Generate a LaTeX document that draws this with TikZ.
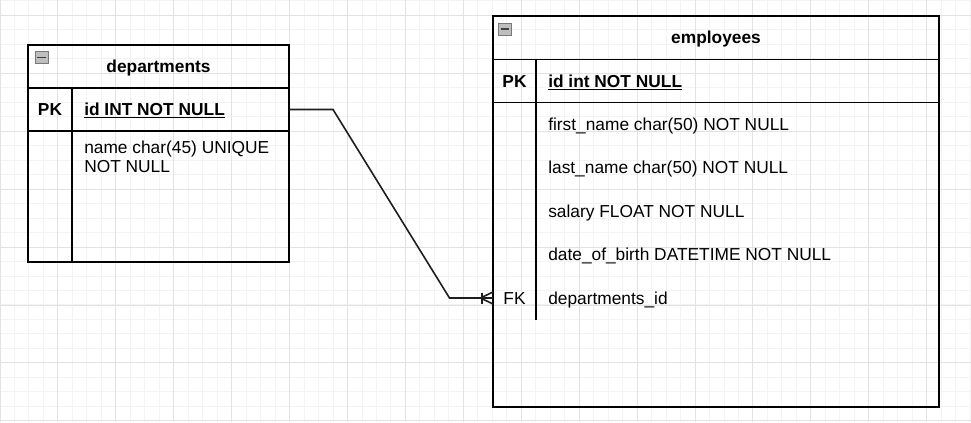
\documentclass[tikz,border=0pt]{standalone}
\usepackage{fontspec}
\setmainfont{Liberation Sans}
\usetikzlibrary{calc}
\definecolor{gridminor}{RGB}{243,243,243}
\definecolor{gridmajor}{RGB}{226,226,226}
\definecolor{iconfill}{RGB}{190,190,190}
\definecolor{iconline}{RGB}{120,120,120}
\definecolor{linkgray}{RGB}{30,30,30}

\begin{document}
\begin{tikzpicture}[x=0.75pt, y=-0.75pt,
    tbl/.style={draw, line width=1.1pt, inner sep=0pt, outer sep=0pt},
    title/.style={font=\fontsize{13}{15}\selectfont\bfseries, text height=9.3pt, text depth=0pt},
    field/.style={font=\fontsize{13}{15}\selectfont, anchor=west, inner sep=0pt, text height=9.3pt, text depth=0pt},
    keycol/.style={font=\fontsize{13}{15}\selectfont, inner sep=0pt, text height=9.3pt, text depth=0pt},
    divider/.style={line width=1.2pt},
    link/.style={draw=linkgray, line width=1.2pt},
    icon/.style={draw=iconline, fill=iconfill, line width=0.6pt, minimum width=13*0.75pt, minimum height=12*0.75pt, inner sep=0pt}
]
    \useasboundingbox (0,0) rectangle (971,422);
    \fill[white] (0,0) rectangle (971,422);

    % Cuadricula del fondo
    \foreach \k in {0,...,67} {
        \draw[gridminor, line width=0.75pt] ({\k*14.48},0) -- ({\k*14.48},422);
    }
    \foreach \k in {0,...,29} {
        \draw[gridminor, line width=0.75pt] (0,{0.9+\k*14.48}) -- (971,{0.9+\k*14.48});
    }
    \foreach \k in {0,...,16} {
        \draw[gridmajor, line width=0.75pt] ({\k*57.92},0) -- ({\k*57.92},422);
    }
    \foreach \k in {0,...,7} {
        \draw[gridmajor, line width=0.75pt] (0,{15.4+\k*57.92}) -- (971,{15.4+\k*57.92});
    }

    % Tabla departments
    \node[tbl, title, minimum width=261*0.75pt, minimum height=43*0.75pt] (dep-head) at (158.5,66.5) {departments};
    \node[tbl, minimum width=261*0.75pt, minimum height=43*0.75pt] (dep-pk) at (158.5,109.5) {};
    \node[tbl, minimum width=261*0.75pt, minimum height=131*0.75pt] (dep-body) at (158.5,196.5) {};
    \draw[divider] (72,88) -- (72,262);
    \node[icon] (dep-icon) at (41.5,57.5) {};
    \draw[line width=1.1pt, black!75] ($(dep-icon.west)+(2.5,0)$) -- ($(dep-icon.east)+(-2.5,0)$);

    \node[keycol, font=\fontsize{13}{15}\selectfont\bfseries] (dep-pkkey) at (50,109.5) {PK};
    \node[field, font=\fontsize{13}{15}\selectfont\bfseries] (dep-id) at (84,109.5) {\underline{id INT NOT NULL}};
    \node[font=\fontsize{13}{14.5}\selectfont, anchor=north west, inner sep=0pt, align=left] (dep-name) at (84,140.3) {name char(45) UNIQUE\\NOT NULL};

    % Tabla employees
    \node[tbl, title, minimum width=446*0.75pt, minimum height=43.5*0.75pt] (emp-head) at (716,37.75) {employees};
    \node[tbl, minimum width=446*0.75pt, minimum height=43*0.75pt] (emp-pk) at (716,81) {};
    \node[tbl, minimum width=446*0.75pt, minimum height=304.5*0.75pt] (emp-body) at (716,254.75) {};
    \draw[divider] (536,59.5) -- (536,320);
    \node[icon] (emp-icon) at (505,29.2) {};
    \draw[line width=1.1pt, black!75] ($(emp-icon.west)+(2.5,0)$) -- ($(emp-icon.east)+(-2.5,0)$);

    \node[keycol, font=\fontsize{13}{15}\selectfont\bfseries] (emp-pkkey) at (514.5,81) {PK};
    \node[field, font=\fontsize{13}{15}\selectfont\bfseries] (emp-id) at (548,81) {\underline{id int NOT NULL}};
    \foreach \n/\y/\t in {first/124.5/{first\_name char(50) NOT NULL},
                          last/167.5/{last\_name char(50) NOT NULL},
                          salary/211/{salary FLOAT NOT NULL},
                          birth/254.3/{date\_of\_birth DATETIME NOT NULL},
                          fk/298/{departments\_id}} {
        \node[field] (emp-\n) at (548,\y) {\t};
    }
    \node[keycol] (emp-fkkey) at (514.5,298) {FK};

    % Relacion uno a muchos
    \coordinate (fk-in) at (emp-body.west |- emp-fk.center);
    \coordinate (bend-a) at (333,109.5);
    \coordinate (bend-b) at (449.5,298);
    \draw[link] (dep-pk.east) -- (bend-a) -- (bend-b) -- (fk-in);
    \draw[link] ($(fk-in)+(-11,-5.5)$) -- ($(fk-in)+(-11,5.5)$);
    \draw[link] ($(fk-in)+(0,-6)$) -- ($(fk-in)+(-12.5,0)$) -- ($(fk-in)+(0,6)$);
\end{tikzpicture}
\end{document}
